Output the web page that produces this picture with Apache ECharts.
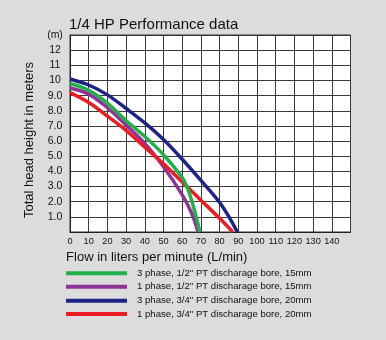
<!DOCTYPE html>
<html>
<head>
<meta charset="utf-8">
<script src="https://cdn.jsdelivr.net/npm/echarts@6/dist/echarts.min.js"></script>
<style>
html,body{margin:0;padding:0;background:#dcdcdc;}
#chart{width:386px;height:340px;}
</style>
</head>
<body>
<div id="chart"></div>
<script>
// ---- data ----
const seriesNames = [
  '3 phase, 1/2" PT discharage bore, 15mm',
  '1 phase, 1/2" PT discharage bore, 15mm',
  '3 phase, 3/4" PT discharage bore, 20mm',
  '1 phase, 3/4" PT discharage bore, 20mm'
];
const green3phFlow = [0, 10, 20, 30, 40, 50, 60, 62.5, 65, 67.5, 69.5];
const green3phHead = [9.8, 9.35, 8.5, 7.35, 6.3, 5.1, 3.6, 3.0, 2.1, 1.0, 0];
const purple1phFlow = [0, 10, 20, 30, 40, 50, 60, 65, 68.5];
const purple1phHead = [9.5, 9.1, 8.2, 7.05, 5.85, 4.3, 2.45, 1.25, 0];
const blue3phFlow = [0, 10, 20, 30, 40, 50, 60, 70, 80, 85, 89.5];
const blue3phHead = [10.1, 9.7, 9.05, 8.15, 7.2, 6.1, 4.8, 3.4, 1.95, 1.0, 0];
const red1phFlow = [0, 10, 20, 30, 40, 50, 60, 70, 80, 87];
const red1phHead = [9.2, 8.55, 7.65, 6.7, 5.6, 4.5, 3.3, 2.1, 0.9, 0];

const xTickLabels = ['0','10','20','30','40','50','60','70','80','90','100','110','120','130','140',''];
const yTickLabels = ['','1.0','2.0','3.0','4.0','5.0','6.0','7.0','8.0','9.0','10','11','12','(m)'];

const colors = ['#22b04b', '#8e3496', '#1e2388', '#ec1c24'];
const zOrder = [4, 2, 5, 3];

function pairs(xs, ys) { return xs.map((x, i) => [x, ys[i]]); }
const seriesData = [
  pairs(green3phFlow, green3phHead),
  pairs(purple1phFlow, purple1phHead),
  pairs(blue3phFlow, blue3phHead),
  pairs(red1phFlow, red1phHead)
];

const FONT = '"Liberation Sans", Arial, Helvetica, sans-serif';
const legendRows = [273.3, 286.7, 300.7, 314];

const chart = echarts.init(document.getElementById('chart'), null, {renderer: 'canvas'});
chart.setOption({
  backgroundColor: '#dcdcdc',
  animation: false,
  textStyle: {fontFamily: FONT},
  title: {
    text: '1/4 HP Performance data',
    left: 64, top: 12,
    textStyle: {fontFamily: FONT, fontSize: 15, fontWeight: 'normal', color: '#111'}
  },
  legend: seriesNames.map((n, i) => ({
    data: [n],
    orient: 'vertical',
    left: 66, top: legendRows[i] - 6,
    padding: 0,
    itemWidth: 61, itemHeight: 4,
    icon: 'rect',
    selectedMode: false,
    textStyle: {fontFamily: FONT, fontSize: 9.6, color: '#111', lineHeight: 12, padding: [0, 0, 0, 5]}
  })),
  grid: {left: 70, right: 35.5, top: 35, bottom: 108, show: true, backgroundColor: '#fff', borderColor: '#333', borderWidth: 1},
  xAxis: {
    type: 'value', min: 0, max: 150, interval: 10,
    name: 'Flow in liters per minute (L/min)',
    nameLocation: 'middle', nameGap: 17,
    nameTextStyle: {fontFamily: FONT, fontSize: 13, color: '#111', padding: [0, 107, 0, 0]},
    axisLine: {show: true, lineStyle: {color: '#222', width: 1}},
    axisTick: {show: false},
    axisLabel: {
      margin: 5, fontSize: 9.2, color: '#111', fontFamily: FONT,
      formatter: v => xTickLabels[Math.round(v / 10)]
    },
    splitLine: {show: true, lineStyle: {color: '#3a3a3a', width: 1}}
  },
  yAxis: {
    type: 'value', min: 0, max: 13, interval: 1,
    name: 'Total head height in meters',
    nameLocation: 'middle', nameGap: 27,
    nameTextStyle: {fontFamily: FONT, fontSize: 13, color: '#111', padding: [0, 13, 0, 0]},
    axisLine: {show: true, lineStyle: {color: '#222', width: 1}},
    axisTick: {show: false},
    axisLabel: {
      margin: 15, align: 'center', fontSize: 10.5, color: '#111', fontFamily: FONT,
      formatter: v => yTickLabels[Math.round(v)]
    },
    splitLine: {show: true, lineStyle: {color: '#3a3a3a', width: 1}}
  },
  series: seriesNames.map((n, i) => ({
    name: n,
    type: 'line',
    data: seriesData[i],
    smooth: 0.35,
    showSymbol: false,
    symbol: 'none',
    z: zOrder[i],
    color: colors[i],
    lineStyle: {color: colors[i], width: 3.5}
  }))
});
</script>
</body>
</html>
